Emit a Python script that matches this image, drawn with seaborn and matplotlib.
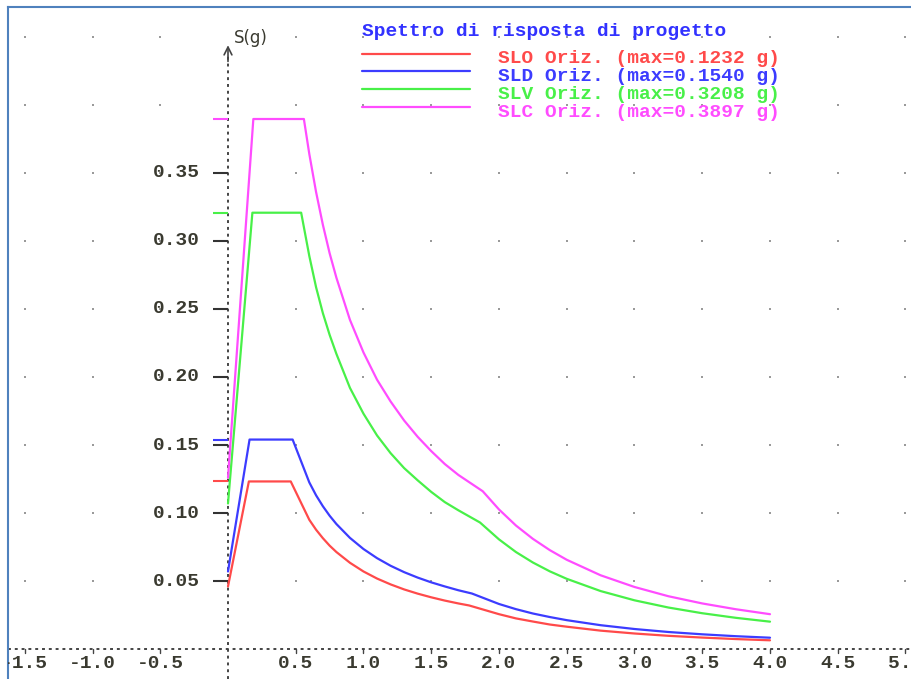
import numpy as np
import pandas as pd
import matplotlib.pyplot as plt
import seaborn as sns
from matplotlib.lines import Line2D

# Spettri di risposta di progetto (periodo T [s], accelerazione S [g])
t_slo = [0.0, 0.154, 0.463, 0.6, 0.65, 0.7, 0.75, 0.8, 0.9, 1.0, 1.1, 1.2, 1.3, 1.4, 1.5, 1.6, 1.7, 1.78,
         2.0, 2.125, 2.25, 2.375, 2.5, 2.75, 3.0, 3.25, 3.5, 3.75, 4.0]
s_slo = [0.046, 0.1232, 0.1232, 0.095, 0.0877, 0.0815, 0.076, 0.0713, 0.0634, 0.057, 0.0518, 0.0475, 0.0438,
         0.0407, 0.038, 0.0356, 0.0335, 0.032, 0.0256, 0.0225, 0.0202, 0.018, 0.0164, 0.0135, 0.0114, 0.0097,
         0.0084, 0.0073, 0.0064]

t_sld = [0.0, 0.159, 0.477, 0.6, 0.65, 0.7, 0.75, 0.8, 0.9, 1.0, 1.1, 1.2, 1.3, 1.4, 1.5, 1.6, 1.7, 1.8,
         2.0, 2.125, 2.25, 2.375, 2.5, 2.75, 3.0, 3.25, 3.5, 3.75, 4.0]
s_sld = [0.057, 0.154, 0.154, 0.1225, 0.113, 0.105, 0.098, 0.0919, 0.0817, 0.0735, 0.0668, 0.0612, 0.0565,
         0.0525, 0.049, 0.046, 0.0432, 0.0408, 0.0331, 0.0293, 0.0261, 0.0235, 0.0212, 0.0175, 0.0147, 0.0125,
         0.0108, 0.0094, 0.0083]

t_slv = [0.0, 0.18, 0.54, 0.6, 0.65, 0.7, 0.75, 0.8, 0.9, 1.0, 1.1, 1.2, 1.3, 1.4, 1.5, 1.6, 1.7, 1.86,
         2.0, 2.125, 2.25, 2.375, 2.5, 2.75, 3.0, 3.25, 3.5, 3.75, 4.0]
s_slv = [0.107, 0.3208, 0.3208, 0.289, 0.266, 0.247, 0.231, 0.217, 0.192, 0.173, 0.157, 0.144, 0.133,
         0.124, 0.1155, 0.108, 0.102, 0.093, 0.0806, 0.0713, 0.0636, 0.0571, 0.0516, 0.0426, 0.0358, 0.0305,
         0.0263, 0.0229, 0.0201]

t_slc = [0.0, 0.187, 0.56, 0.6, 0.65, 0.7, 0.75, 0.8, 0.9, 1.0, 1.1, 1.2, 1.3, 1.4, 1.5, 1.6, 1.7, 1.88,
         2.0, 2.125, 2.25, 2.375, 2.5, 2.75, 3.0, 3.25, 3.5, 3.75, 4.0]
s_slc = [0.126, 0.3897, 0.3897, 0.364, 0.336, 0.312, 0.291, 0.273, 0.242, 0.218, 0.198, 0.182, 0.168,
         0.156, 0.1455, 0.136, 0.128, 0.116, 0.1026, 0.0908, 0.081, 0.0727, 0.0656, 0.0542, 0.0456, 0.0388,
         0.0335, 0.0292, 0.0256]

stati = ['SLO', 'SLD', 'SLV', 'SLC']
s_max = [0.1232, 0.1540, 0.3208, 0.3897]
etichette = ['SLO Oriz. (max=0.1232 g)', 'SLD Oriz. (max=0.1540 g)',
             'SLV Oriz. (max=0.3208 g)', 'SLC Oriz. (max=0.3897 g)']
colori = ['#ff4a4a', '#3c3cff', '#48f048', '#ff4cff']

y_ticks = [0.05, 0.10, 0.15, 0.20, 0.25, 0.30, 0.35]
x_ticks = [-1.5, -1.0, -0.5, 0.5, 1.0, 1.5, 2.0, 2.5, 3.0, 3.5, 4.0, 4.5, 5.0]

# tabella long-form per seaborn
frames = []
for nome, t, s in zip(stati, [t_slo, t_sld, t_slv, t_slc], [s_slo, s_sld, s_slv, s_slc]):
    frames.append(pd.DataFrame({'T': t, 'S': s, 'Stato': nome}))
df = pd.concat(frames, ignore_index=True)

sns.set_style('white')
plt.rcParams['font.family'] = ['Liberation Mono', 'DejaVu Sans Mono']

W, H = 912, 679
fig = plt.figure(figsize=(W / 100, H / 100), dpi=100)
ax = fig.add_axes([8 / W, 0, (W - 8) / W, (H - 7) / H])

# scala: T=0 a x=228 px, 135.5 px/s ; S=0 a y=649 px, 1360 px/g
x0, kx = 228, 135.5
y0, ky = 649, 1360
ax.set_xlim((8 - x0) / kx, (W - x0) / kx)
ax.set_ylim((y0 - H) / ky, (y0 - 7) / ky)
ax.set_xticks([])
ax.set_yticks([])
for side in ['right', 'bottom']:
    ax.spines[side].set_visible(False)
for side in ['left', 'top']:
    ax.spines[side].set_color('#4f81bd')
    ax.spines[side].set_linewidth(1.5)

# griglia a puntini
gx = np.arange(-1.5, 5.01, 0.5)
gy = np.arange(0.05, 0.46, 0.05)
GX, GY = np.meshgrid(gx[np.abs(gx) > 1e-9], gy)
ax.scatter(GX.ravel(), GY.ravel(), s=2, color='#9a9a9a', marker='s', linewidths=0, zorder=1)

# assi tratteggiati
ax.axhline(0, color='#444444', lw=1.4, ls=(0, (1.5, 2)), zorder=2)
ax.plot([0, 0], [(y0 - H) / ky, 0.437], color='#444444', lw=1.4, ls=(0, (1.5, 2)), zorder=2)
ax.annotate('', xy=(0, 0.446), xytext=(0, 0.43),
            arrowprops=dict(arrowstyle='->', color='#444444', lw=1.2, mutation_scale=14))
ax.text(0.17, 0.449, 'S(g)', family='DejaVu Sans', fontsize=12, color='#3a3a30',
        ha='center', va='center')

# curve
sns.lineplot(data=df, x='T', y='S', hue='Stato', palette=colori, estimator=None,
             sort=False, legend=False, linewidth=1.6, ax=ax, zorder=3)

# tacche e etichette asse y
ax.hlines(y_ticks, -0.11, 0, color='#333333', lw=1.5, zorder=2)
ax.hlines(s_max, -0.11, 0, colors=colori, lw=1.5, zorder=2)
for v in y_ticks:
    ax.text(-0.205, v, f'{v:.2f}', ha='right', va='center', fontsize=14,
            fontweight='bold', color='#3a3a30')

# etichette asse x
for v in x_ticks:
    ax.plot([v, v], [0.0, -0.003], color='#444444', lw=1)
    ax.text(v, -0.0105, f'{v:.1f}', ha='center', va='center', fontsize=14,
            fontweight='bold', color='#3a3a30', clip_on=True)

# legenda
def px(x, y):
    return x / W, 1 - y / H

fig.text(*px(362, 31), 'Spettro di risposta di progetto', fontsize=14, fontweight='bold',
         color='#3232ff', ha='left', va='center')
for i, (lab, col) in enumerate(zip(etichette, colori)):
    yl = 53.5 + 17.9 * i
    xa, ya = px(362, yl)
    xb, _ = px(470, yl)
    fig.add_artist(Line2D([xa, xb], [ya, ya], color=col, lw=1.6))
    fig.text(*px(498, yl + 5), lab, fontsize=14, fontweight='bold', color=col,
             ha='left', va='center')

fig.savefig('out.png', dpi=100)
